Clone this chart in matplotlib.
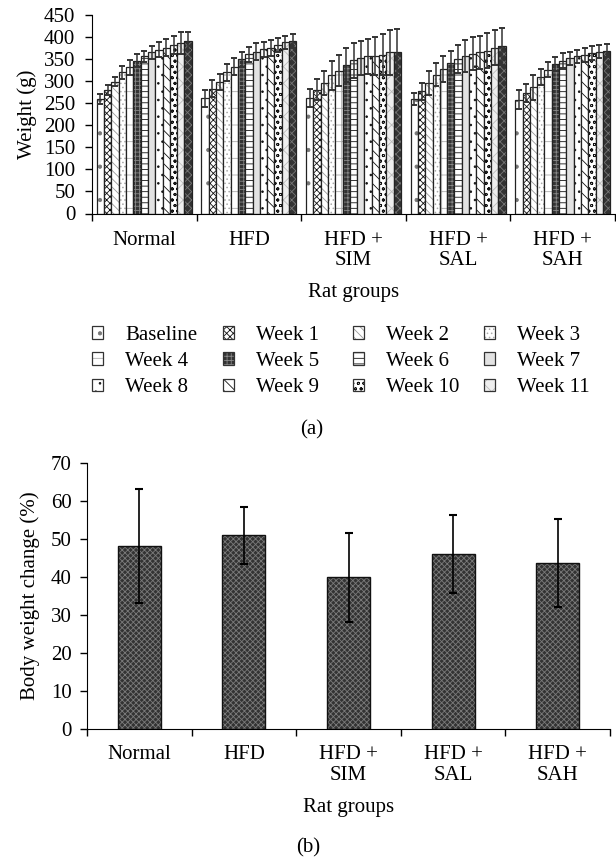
import numpy as np
import matplotlib.pyplot as plt
from matplotlib.patches import Patch

plt.rcParams['font.family'] = ['Liberation Serif', 'DejaVu Serif']
plt.rcParams['hatch.linewidth'] = 0.6

# Datos
grupos = ['Normal', 'HFD', 'HFD +\nSIM', 'HFD +\nSAL', 'HFD +\nSAH']
semanas = ['Baseline'] + [f'Week {i}' for i in range(1, 13)]

# peso (g) por semana, una fila por grupo
peso_normal = [259, 280, 299, 320, 331, 346, 356, 365, 371, 376, 382, 386, 391]
peso_hfd = [261, 283, 299, 320, 333, 350, 361, 367, 372, 376, 381, 388, 392]
peso_sim = [262, 281, 296, 313, 324, 336, 347, 352, 356, 357, 360, 365, 366]
peso_sal = [260, 277, 296, 315, 327, 341, 350, 357, 362, 365, 369, 376, 379]
peso_sah = [258, 273, 286, 309, 326, 339, 346, 352, 356, 360, 363, 367, 369]

err_normal = [11, 11, 11, 14, 17, 15, 13, 15, 17, 19, 20, 25, 21]
err_hfd = [19, 19, 18, 19, 19, 17, 17, 19, 17, 18, 16, 15, 16]
err_sim = [20, 24, 28, 32, 36, 39, 39, 39, 39, 42, 47, 51, 52]
err_sal = [13, 19, 28, 27, 29, 28, 32, 37, 37, 38, 40, 39, 42]
err_sah = [21, 21, 29, 18, 17, 15, 17, 15, 15, 16, 16, 14, 15]

cambio = [48.1, 50.8, 39.8, 46.0, 43.6]
cambio_err = [15.0, 7.5, 11.7, 10.3, 11.5]

pesos = np.array([peso_normal, peso_hfd, peso_sim, peso_sal, peso_sah])
errores = np.array([err_normal, err_hfd, err_sim, err_sal, err_sah])

# estilo de cada barra: (relleno, trama, color de trama)
estilos = [
    ('white', '.', '#777777'),
    ('white', 'xxxxx', '#111111'),
    ('white', '\\\\\\\\', '#999999'),
    ('white', '....', '#aaaaaa'),
    ('white', '+', '#aaaaaa'),
    ('#333333', '++++', '#888888'),
    ('white', '---', '#111111'),
    ('#e2e2e2', '', '#e2e2e2'),
    ('white', '..', '#111111'),
    ('white', '\\\\\\', '#111111'),
    ('white', 'ooo', '#111111'),
    ('#eeeeee', 'xx', '#bbbbbb'),
    ('#333333', 'xxxx', '#777777'),
]

FS = 15

fig = plt.figure(figsize=(6.16, 8.57), dpi=100)

# ---------------- (a) ----------------
ax1 = fig.add_axes([92/616, 1-213.5/857, 523/616, 198.5/857])
x = np.arange(len(grupos))
n = len(semanas)
w = 0.908 / n
handles = []
for i in range(n):
    pos = x + (i - (n - 1) / 2) * w
    fc, hatch, hc = estilos[i]
    ax1.bar(pos, pesos[:, i], w, color=fc, hatch=hatch, edgecolor=hc, linewidth=0)
    ax1.bar(pos, pesos[:, i], w, fill=False, edgecolor='#222222', linewidth=0.9)
    ax1.errorbar(pos, pesos[:, i], yerr=errores[:, i], fmt='none', ecolor='#333333',
                 elinewidth=1.1, capsize=2.3, capthick=1.4)
    handles.append((Patch(facecolor=fc, hatch=hatch, edgecolor=hc, linewidth=0),
                    Patch(fill=False, edgecolor='#333333', linewidth=0.9)))

ax1.set_xlim(-0.5, 4.5)
ax1.set_ylim(0, 450)
ax1.set_yticks(np.arange(0, 451, 50))
ax1.set_xticks(np.arange(-0.5, 4.6, 1))
ax1.set_xticklabels([])
ax1.set_xticks(x, minor=True)
ax1.set_xticklabels(grupos, minor=True, fontsize=FS, linespacing=1.1)
ax1.tick_params(axis='x', which='minor', length=0, pad=12.5)
ax1.tick_params(axis='both', which='major', length=5, width=1, labelsize=FS)
ax1.tick_params(axis='y', pad=7)
ax1.spines['top'].set_visible(False)
ax1.spines['right'].set_visible(False)
ax1.set_ylabel('Weight (g)', fontsize=FS)
ax1.yaxis.set_label_coords(-0.105, 0.5)
ax1.set_xlabel('Rat groups', fontsize=FS, labelpad=9.5)

# leyenda en 4 columnas, fila por fila como el original
col_x = [92, 222.5, 353, 484]
for c in range(4):
    idx = list(range(c, 12, 4))
    fig.legend([handles[k] for k in idx], [semanas[k] for k in idx],
               loc='upper left', bbox_to_anchor=(col_x[c]/616, 1-326/857),
               frameon=False, fontsize=FS, handlelength=0.55, handleheight=0.55,
               handletextpad=1.05, labelspacing=0.34, borderpad=0, borderaxespad=0)

fig.text(0.506, 1-430/857, '(a)', ha='center', va='center', fontsize=FS)

# ---------------- (b) ----------------
ax2 = fig.add_axes([87/616, 1-728.5/857, 523/616, 266/857])
ax2.bar(x, cambio, 0.41, color='#333333', hatch='xxxxxx', edgecolor='#7a7a7a', linewidth=0)
ax2.bar(x, cambio, 0.41, fill=False, edgecolor='#111111', linewidth=1)
ax2.errorbar(x, cambio, yerr=cambio_err, fmt='none', ecolor='black',
             elinewidth=1.2, capsize=3, capthick=1.5)
ax2.set_xlim(-0.5, 4.5)
ax2.set_ylim(0, 70)
ax2.set_yticks(np.arange(0, 71, 10))
ax2.set_xticks(np.arange(-0.5, 4.6, 1))
ax2.set_xticklabels([])
ax2.set_xticks(x, minor=True)
ax2.set_xticklabels(grupos, minor=True, fontsize=FS, linespacing=1.1)
ax2.tick_params(axis='x', which='minor', length=0, pad=12)
ax2.tick_params(axis='both', which='major', length=5, width=1, labelsize=FS)
ax2.tick_params(axis='y', pad=6)
ax2.spines['top'].set_visible(False)
ax2.spines['right'].set_visible(False)
ax2.set_ylabel('Body weight change (%)', fontsize=FS)
ax2.yaxis.set_label_coords(-0.09, 0.5)
ax2.set_xlabel('Rat groups', fontsize=FS, labelpad=10)

fig.text(0.5, 1-848/857, '(b)', ha='center', va='center', fontsize=FS)

fig.savefig('out.png', dpi=100)
